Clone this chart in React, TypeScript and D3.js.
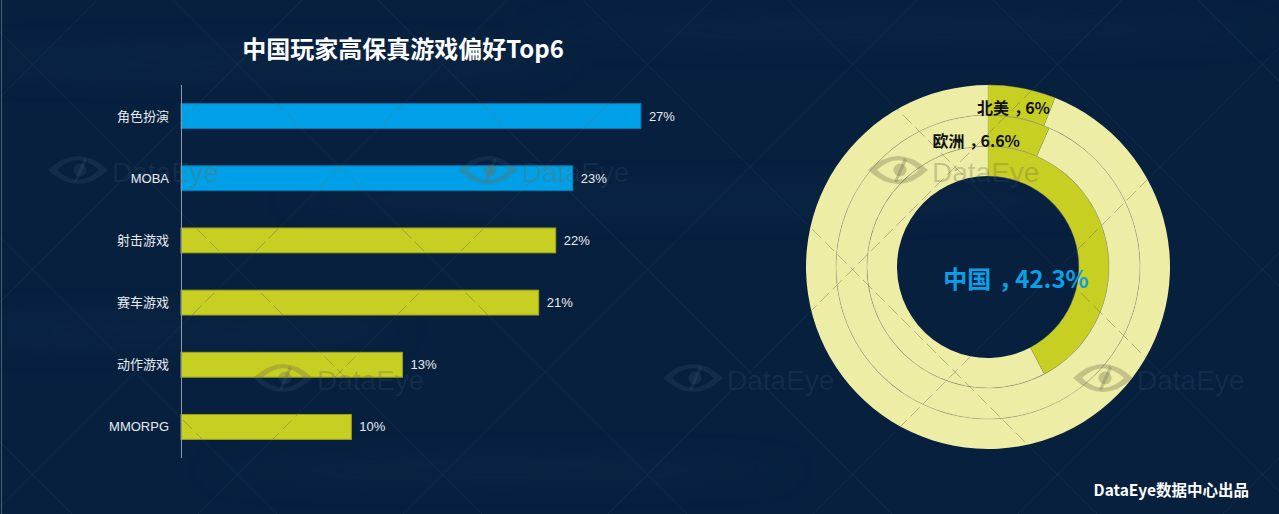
import React from "react";
import * as d3 from "d3";

// ---- data ----
const categories = ["角色扮演", "MOBA", "射击游戏", "赛车游戏", "动作游戏", "MMORPG"];
const shares = [27, 23, 22, 21, 13, 10];
const highlightedCategories = ["角色扮演", "MOBA"];
const regions = ["中国", "欧洲", "北美"];
const regionShares = [42.3, 6.6, 6];
const titleText = "中国玩家高保真游戏偏好Top6";
const footerText = "DataEye数据中心出品";
const watermarkText = "DataEye";

const W = 1279;
const H = 514;
const BG = "#07203e";
const BLUE = "#00a0e9";
const LIME = "#c8cf23";
const PALE = "#ededa5";

const CJK = "'Noto Sans CJK SC', 'Noto Sans', sans-serif";
const LATIN = "'Liberation Sans', Arial, 'Noto Sans CJK SC', sans-serif";

const x = d3.scaleLinear().domain([0, 30]).range([181, 692]);
const y = d3.scaleBand<string>().domain(categories).range([85, 458]).paddingInner(0.6).paddingOuter(0.3);

const cx = 988;
const cy = 267;
const ringR: [number, number][] = [
  [91, 121],
  [121, 152],
  [152, 182],
];

const arcGen = d3.arc<any>();

function Eye({ x0, y0 }: { x0: number; y0: number }) {
  const w = 30;
  const h = 14;
  const eye = `M${x0 - w},${y0} Q${x0},${y0 - h * 2} ${x0 + w},${y0} Q${x0},${y0 + h * 2} ${x0 - w},${y0} Z`;
  const eyeIn = `M${x0 - w + 9},${y0} Q${x0},${y0 - h * 1.4} ${x0 + w - 9},${y0} Q${x0},${y0 + h * 1.4} ${x0 - w + 9},${y0} Z`;
  return (
    <g>
      <path d={eye + " " + eyeIn} fillRule="evenodd" />
      <path d={`M${x0 - 4},${y0 + 12} L${x0 + 6},${y0 - 12} L${x0 + 9},${y0 - 10} L${x0 - 1},${y0 + 12} Z`} />
      <circle cx={x0 + 2} cy={y0} r={6.5} />
    </g>
  );
}

function Watermarks() {
  const pts: [number, number][] = [];
  for (let r = 0; r < 2; r++) {
    for (let c = 0; c < 3; c++) {
      pts.push([78 + 205 * r + 410 * c, 170 + 208 * r]);
    }
  }
  return (
    <g>
      {pts.map(([px, py], i) => (
        <g key={i}>
          <Eye x0={px} y0={py} />
          <text x={px + 34} y={py + 12} fontFamily={LATIN} fontSize={28} stroke="none">
            {watermarkText}
          </text>
        </g>
      ))}
    </g>
  );
}

function Lattice({ dash }: { dash?: string }) {
  const lines: React.ReactNode[] = [];
  for (let k = -8; k <= 8; k++) {
    const c = -788 + 205 * k;
    if (c > H || c < -W) continue;
    lines.push(<line key={"a" + k} x1={-c} y1={0} x2={H - c} y2={H} strokeDasharray={dash} />);
  }
  for (let k = -8; k <= 8; k++) {
    const c = 1122 + 205 * k;
    if (c < 0 || c > W + H) continue;
    lines.push(<line key={"b" + k} x1={c} y1={0} x2={c - H} y2={H} strokeDasharray={dash} />);
  }
  return <g>{lines}</g>;
}

function RegionLabel({ name, value }: { name: string; value: number }) {
  return (
    <>
      <tspan>{name}</tspan>
      <tspan dx="0.3em">，</tspan>
      <tspan dx="-0.3em">{`${value}%`}</tspan>
    </>
  );
}

export default function App() {
  const R = ringR[2][1];
  const r0 = ringR[0][0];
  const annulus = `M${cx},${cy - R} a${R},${R} 0 1,1 0,${2 * R} a${R},${R} 0 1,1 0,${-2 * R} Z M${cx},${cy - r0} a${r0},${r0} 0 1,1 0,${2 * r0} a${r0},${r0} 0 1,1 0,${-2 * r0} Z`;

  const labelPos = [null, { dx: 32, r: 136.5, dy: 16 }, { dx: 62, r: 167, dy: 14 }];

  return (
    <svg
      width={W}
      height={H}
      viewBox={`0 0 ${W} ${H}`}
      style={{ position: "absolute", left: 0, top: 0, display: "block" }}
    >
      <defs>
        <filter id="blur" x="-50%" y="-50%" width="200%" height="200%">
          <feGaussianBlur stdDeviation="16" />
        </filter>
        <clipPath id="lightClip">
          <path d={annulus} clipRule="evenodd" />
          {categories.map((c, i) => (
            <rect key={c} x={x(0)} y={y(c)!} width={x(shares[i]) - x(0)} height={y.bandwidth()} />
          ))}
        </clipPath>
      </defs>

      {/* background */}
      <rect width={W} height={H} fill={BG} />
      <g filter="url(#blur)" fill="#1b3c60" opacity={0.2}>
        <ellipse cx={250} cy={62} rx={320} ry={12} />
        <ellipse cx={700} cy={200} rx={420} ry={10} />
        <ellipse cx={150} cy={330} rx={260} ry={12} />
        <ellipse cx={900} cy={30} rx={380} ry={8} />
        <ellipse cx={500} cy={470} rx={300} ry={8} />
      </g>
      <line x1={1.5} y1={0} x2={1.5} y2={H} stroke="#c8ccd4" strokeOpacity={0.35} />
      <g stroke="#ffffff" strokeOpacity={0.045} strokeWidth={1}>
        <Lattice />
      </g>
      <g fill="#8ea4c0" fillOpacity={0.09}>
        <Watermarks />
      </g>

      {/* title */}
      <text x={403} y={58} textAnchor="middle" fill="#ffffff" fontFamily={CJK} fontWeight={700} fontSize={24}>
        {titleText}
      </text>

      {/* bar chart */}
      <g>
        {categories.map((c, i) => {
          const col = highlightedCategories.includes(c) ? BLUE : LIME;
          const yy = y(c)!;
          const bh = y.bandwidth();
          return (
            <g key={c}>
              <rect
                x={x(0)}
                y={yy}
                width={x(shares[i]) - x(0)}
                height={bh}
                fill={col}
                stroke={d3.color(col)!.darker(0.7).formatHex()}
                strokeWidth={1}
              />
              <text
                x={x(0) - 12}
                y={yy + bh / 2}
                dy="0.35em"
                textAnchor="end"
                fill="#e8ecf0"
                fontFamily={LATIN}
                fontSize={13}
              >
                {c}
              </text>
              <text
                x={x(shares[i]) + 8}
                y={yy + bh / 2}
                dy="0.35em"
                fill="#e8ecf0"
                fontFamily={LATIN}
                fontSize={13}
              >
                {shares[i] + "%"}
              </text>
            </g>
          );
        })}
        <line x1={x(0) + 0.5} x2={x(0) + 0.5} y1={85} y2={458} stroke="#8e98a6" strokeWidth={1} />
      </g>

      {/* donut rings */}
      <g transform={`translate(${cx},${cy})`}>
        {regions.map((r, i) => {
          const [ir, or] = ringR[i];
          const end = (2 * Math.PI * regionShares[i]) / 100;
          return (
            <g key={r}>
              <path
                d={arcGen({ innerRadius: ir, outerRadius: or, startAngle: end, endAngle: 2 * Math.PI })!}
                fill={PALE}
              />
              <path d={arcGen({ innerRadius: ir, outerRadius: or, startAngle: 0, endAngle: end })!} fill={LIME} />
              <path
                d={arcGen({ innerRadius: ir, outerRadius: or, startAngle: 0, endAngle: end })!}
                fill="none"
                stroke="#9a9a7c"
                strokeOpacity={0.6}
                strokeWidth={0.6}
              />
            </g>
          );
        })}
        {[ringR[1][0], ringR[2][0]].map((rr) => (
          <circle key={rr} r={rr} fill="none" stroke="#9a9a80" strokeOpacity={0.7} strokeWidth={0.6} />
        ))}
      </g>

      {/* watermark overlay on light marks */}
      <g clipPath="url(#lightClip)">
        <g stroke="#6e6e58" strokeOpacity={0.45} strokeWidth={1}>
          <Lattice dash="13 5" />
        </g>
        <g fill="#6e6e50" fillOpacity={0.33}>
          <Watermarks />
        </g>
      </g>

      {/* donut labels */}
      {regions.map((r, i) => {
        const lp = labelPos[i];
        if (!lp) return null;
        return (
          <text
            key={r}
            x={cx + lp.dx}
            y={cy - lp.r + lp.dy}
            textAnchor="end"
            fill="#111111"
            fontFamily={CJK}
            fontWeight={700}
            fontSize={16}
          >
            <RegionLabel name={r} value={regionShares[i]} />
          </text>
        );
      })}
      <text
        x={1016}
        y={288}
        textAnchor="middle"
        fill="#0aa0e6"
        fontFamily={CJK}
        fontWeight={700}
        fontSize={24}
      >
        <RegionLabel name={regions[0]} value={regionShares[0]} />
      </text>

      {/* footer */}
      <text x={1249} y={496} textAnchor="end" fill="#ffffff" fontFamily={CJK} fontWeight={700} fontSize={15.5}>
        {footerText}
      </text>
    </svg>
  );
}
